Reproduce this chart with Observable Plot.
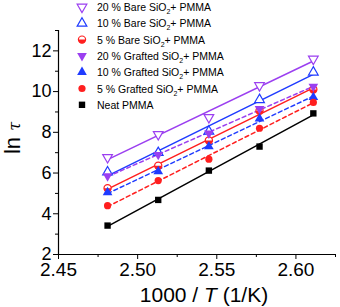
<!DOCTYPE html>
<html><head><meta charset="utf-8">
<script src="https://cdn.jsdelivr.net/npm/d3@7"></script>
<script src="https://cdn.jsdelivr.net/npm/@observablehq/plot@0.6"></script>
<style>body{margin:0;background:#fff;} #chart{width:340px;height:307px;}</style>
</head><body><div id="chart"></div>
<script>
// 1000/T values (1/K)
const invT = [2.481, 2.513, 2.545, 2.577, 2.611];
// ln tau values per series
const bare20 = [6.77, 7.90, 8.73, 10.30, 11.60];
const bare10 = [6.05, 7.00, 8.05, 9.60, 10.95];
const bare5 = [5.25, 6.36, 7.60, 9.06, 10.10];
const grafted20 = [5.85, 6.90, 7.95, 9.15, 10.25];
const grafted10 = [5.05, 6.08, 7.30, 8.67, 9.72];
const grafted5 = [4.40, 5.63, 6.68, 8.20, 9.47];
const neat = [3.42, 4.68, 6.12, 7.30, 8.93];

const seriesNames = [
  "20 % Bare SiO2+ PMMA", "10 % Bare SiO2+ PMMA", "5 % Bare SiO2+ PMMA",
  "20 % Grafted SiO2+ PMMA", "10 % Grafted SiO2+ PMMA", "5 % Grafted SiO2+ PMMA",
  "Neat PMMA"
];
const seriesValues = [bare20, bare10, bare5, grafted20, grafted10, grafted5, neat];
const yTicks = [2, 4, 6, 8, 10, 12];
const yMinor = [3, 5, 7, 9, 11, 13];
const xTicks = [2.45, 2.50, 2.55, 2.60];
const xMinor = [2.475, 2.525, 2.575, 2.625];

const PURPLE = "#9b3ff0", BLUE = "#1f3bff", RED = "#ff1f1f", BLACK = "#000";
const halfDisk = {draw(ctx, size){ const r = Math.sqrt(size/Math.PI); ctx.moveTo(r,0); ctx.arc(0,0,r,0,Math.PI); ctx.closePath(); }};
const styles = [
  {color: PURPLE, symbol: "triangle", rotate: 180, open: true, dash: null},
  {color: BLUE, symbol: "triangle", rotate: 0, open: true, dash: null},
  {color: RED, symbol: "circle", rotate: 0, open: true, half: true, dash: null},
  {color: PURPLE, symbol: "triangle", rotate: 180, open: false, dash: "4,3"},
  {color: BLUE, symbol: "triangle", rotate: 0, open: false, dash: "4,3"},
  {color: RED, symbol: "circle", rotate: 0, open: false, dash: "4,3"},
  {color: BLACK, symbol: "square", rotate: 0, open: false, dash: null}
];

const rows = seriesNames.map((name, i) => seriesValues[i].map((v, j) => ({series: name, x: invT[j], y: v})));
const R = 3.6;

const marks = [
  Plot.axisY({ticks: yTicks, tickSize: 5, tickPadding: 2, label: null, fontSize: 18}),
  Plot.axisY({ticks: yMinor, tickSize: 3, text: null, label: null}),
  Plot.axisX({ticks: xTicks, tickSize: 5, tickPadding: 3, tickFormat: d3.format(".2f"), label: null, fontSize: 19}),
  Plot.axisX({ticks: xMinor, tickSize: 3, text: null, label: null}),
  Plot.ruleX([2.45], {strokeWidth: 1.2}),
  Plot.ruleY([2], {strokeWidth: 1.2})
];
rows.forEach((d, i) => {
  const s = styles[i];
  marks.push(Plot.linearRegressionY(d, {x: "x", y: "y", stroke: s.color, ci: 0, strokeWidth: 1.5, strokeDasharray: s.dash || undefined}));
});
rows.forEach((d, i) => {
  const s = styles[i];
  if (s.half) {
    marks.push(Plot.dot(d, {x: "x", y: "y", symbol: "circle", r: R, fill: "white", stroke: s.color, strokeWidth: 1.2}));
    marks.push(Plot.dot(d, {x: "x", y: "y", symbol: halfDisk, r: R, fill: s.color}));
  } else if (s.open) {
    marks.push(Plot.dot(d, {x: "x", y: "y", symbol: s.symbol, rotate: s.rotate, r: R, fill: "white", stroke: s.color, strokeWidth: 1.2}));
  } else {
    marks.push(Plot.dot(d, {x: "x", y: "y", symbol: s.symbol, rotate: s.rotate, r: R, fill: s.color, stroke: "none"}));
  }
});

const plot = Plot.plot({
  width: 340, height: 307,
  marginLeft: 58, marginRight: 5, marginTop: 30, marginBottom: 53,
  style: {fontFamily: "'Liberation Sans', Arial, sans-serif", color: "#000", background: "#fff", overflow: "visible"},
  x: {domain: [2.45, 2.625]},
  y: {domain: [2, 13]},
  marks
});
document.getElementById("chart").appendChild(plot);

const svg = d3.select(plot);
const font = "'Liberation Sans', Arial, sans-serif";
// axis titles
const xt = svg.append("text").attr("x", 204).attr("y", 302).attr("text-anchor", "middle")
  .attr("font-family", font).attr("font-size", 21).attr("fill", "#000");
xt.append("tspan").text("1000 / ");
xt.append("tspan").attr("font-style", "italic").text("T");
xt.append("tspan").text(" (1/K)");
const yt = svg.append("text").attr("transform", "translate(20,138) rotate(-90)").attr("text-anchor", "middle")
  .attr("font-family", font).attr("font-size", 22).attr("fill", "#000");
yt.append("tspan").text("ln ");
yt.append("tspan").attr("font-style", "italic").attr("font-family", "'DejaVu Serif', serif").attr("font-size", 16).text("τ");

// legend
const lg = svg.append("g").attr("font-family", font).attr("font-size", 10.5).attr("fill", "#000").attr("text-anchor", "start");
const symMap = {triangle: d3.symbolTriangle, circle: d3.symbolCircle, square: d3.symbolSquare};
seriesNames.forEach((name, i) => {
  const s = styles[i];
  const y = 7 + i * 16.3;
  const size = Math.PI * R * R;
  const g = lg.append("g").attr("transform", `translate(82,${y}) rotate(${s.rotate})`);
  if (s.half) {
    g.append("path").attr("d", d3.symbol(d3.symbolCircle, size)()).attr("fill", "white").attr("stroke", s.color).attr("stroke-width", 1.2);
    g.append("path").attr("d", d3.symbol(halfDisk, size)()).attr("fill", s.color);
  } else if (s.open) {
    g.append("path").attr("d", d3.symbol(symMap[s.symbol], size)()).attr("fill", "white").attr("stroke", s.color).attr("stroke-width", 1.2);
  } else {
    g.append("path").attr("d", d3.symbol(symMap[s.symbol], size)()).attr("fill", s.color);
  }
  const t = lg.append("text").attr("x", 97).attr("y", y + 4).attr("text-anchor", "start");
  const parts = name.split("SiO2");
  if (parts.length === 2) {
    t.append("tspan").text(parts[0] + "SiO");
    t.append("tspan").attr("font-size", 7).attr("dy", 3).text("2");
    t.append("tspan").attr("dy", -3).text(parts[1]);
  } else {
    t.text(name);
  }
});
</script>
</body></html>
